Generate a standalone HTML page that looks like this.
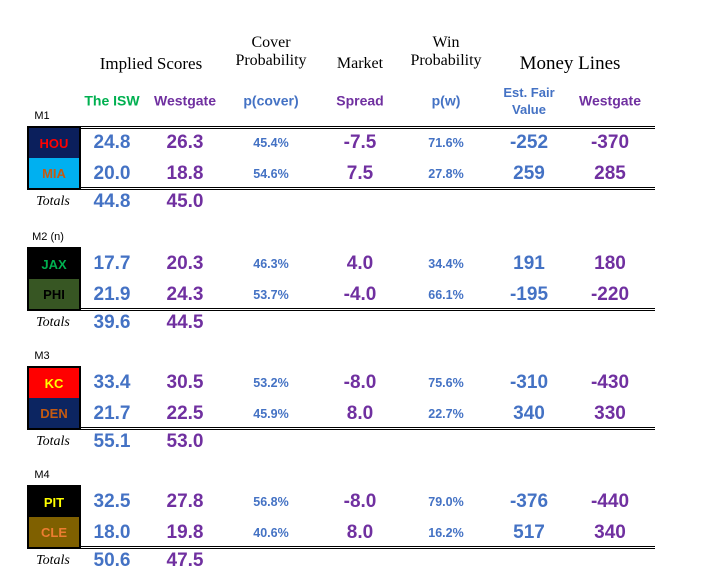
<!DOCTYPE html>
<html><head><meta charset="utf-8">
<style>
body{margin:0;width:704px;height:581px;background:#fff;position:relative;overflow:hidden;font-family:"Liberation Sans",sans-serif}
.a{position:absolute;white-space:nowrap;transform:translate(-50%,-50%)}
.h{font-family:"Liberation Serif",serif;font-size:16px;color:#000;text-align:center;line-height:18px}
.sub{font-weight:bold;font-size:14px;line-height:17px;text-align:center}
.n{font-weight:bold;font-size:19px}
.p{font-weight:bold;font-size:12.5px}
.bl{color:#4472C4}.pu{color:#7030A0}.gr{color:#00B050}
.lbl{font-size:11px;color:#000}
.tot{font-family:"Liberation Serif",serif;font-style:italic;font-size:14px}
.box{position:absolute;left:27px;width:50px;border:2px solid #000}
.team{height:30px;display:flex;align-items:center;justify-content:center;font-weight:bold;font-size:13px}
.dl{position:absolute;left:80px;width:575px;height:1px;border-top:1.5px solid #000;border-bottom:1.5px solid #000;box-sizing:content-box}
</style></head><body>
<div class="a h" style="left:151px;top:64px;font-size:17px">Implied Scores</div>
<div class="a h" style="left:271px;top:52px">Cover<br>Probability</div>
<div class="a h" style="left:360px;top:64px">Market</div>
<div class="a h" style="left:446px;top:52px">Win<br>Probability</div>
<div class="a h" style="left:570px;top:64px;font-size:19px">Money Lines</div>
<div class="a sub gr" style="left:112px;top:101px">The ISW</div>
<div class="a sub pu" style="left:185px;top:101px">Westgate</div>
<div class="a sub bl" style="left:271px;top:101px">p(cover)</div>
<div class="a sub pu" style="left:360px;top:101px">Spread</div>
<div class="a sub bl" style="left:446px;top:101px">p(w)</div>
<div class="a sub bl" style="left:529px;top:101px;font-size:13px">Est. Fair<br>Value</div>
<div class="a sub pu" style="left:610px;top:101px">Westgate</div>
<script>
const labels=["M1","M2 (n)","M3","M4"];
const teams=[["HOU","MIA"],["JAX","PHI"],["KC","DEN"],["PIT","CLE"]];
const teamBg=[["#0B1F5C","#00B0F0"],["#000000","#375623"],["#FF0000","#0C2561"],["#000000","#7F6000"]];
const teamFg=[["#FF0000","#C55A11"],["#00B050","#000000"],["#FFFF00","#C55A11"],["#FFFF00","#ED7D31"]];
const isw=[["24.8","20.0"],["17.7","21.9"],["33.4","21.7"],["32.5","18.0"]];
const wg=[["26.3","18.8"],["20.3","24.3"],["30.5","22.5"],["27.8","19.8"]];
const pcover=[["45.4%","54.6%"],["46.3%","53.7%"],["53.2%","45.9%"],["56.8%","40.6%"]];
const spread=[["-7.5","7.5"],["4.0","-4.0"],["-8.0","8.0"],["-8.0","8.0"]];
const pw=[["71.6%","27.8%"],["34.4%","66.1%"],["75.6%","22.7%"],["79.0%","16.2%"]];
const fair=[["-252","259"],["191","-195"],["-310","340"],["-376","517"]];
const wml=[["-370","285"],["180","-220"],["-430","330"],["-440","340"]];
const totIsw=["44.8","39.6","55.1","50.6"];
const totWg=["45.0","44.5","53.0","47.5"];
const blockTop=[126,247,366,485];
function add(cls,txt,x,y,name){const d=document.createElement('div');d.className='a '+cls;d.textContent=txt;d.style.left=x+'px';d.style.top=y+'px';


document.body.appendChild(d);return d;}
labels.forEach((l,i)=>{
 const t=blockTop[i];
 add('lbl',l,i==1?48:42,t-10,'match-label');
 const b=document.createElement('div');b.className='box';b.style.top=t+'px';
 
 
 for(let r=0;r<2;r++){const c=document.createElement('div');c.className='team';c.style.background=teamBg[i][r];c.style.color=teamFg[i][r];c.textContent=teams[i][r];
 
 
 b.appendChild(c);}
 document.body.appendChild(b);
 if(i==0){const d=document.createElement('div');d.className='dl';d.style.top=(t)+'px';
 
 
 document.body.appendChild(d);}
 const d2=document.createElement('div');d2.className='dl';d2.style.top=(t+61)+'px';
 
 
 document.body.appendChild(d2);
 for(let r=0;r<2;r++){const y=t+17+r*31;
  add('n bl',isw[i][r],112,y,'isw-score');
  add('n pu',wg[i][r],185,y,'westgate-score');
  add('p bl',pcover[i][r],271,y,'cover-prob');
  add('n pu',spread[i][r],360,y,'spread');
  add('p bl',pw[i][r],446,y,'win-prob');
  add('n bl',fair[i][r],529,y,'fair-value');
  add('n pu',wml[i][r],610,y,'westgate-moneyline');
 }
 add('tot','Totals',53,t+76,'totals-label');
 add('n bl',totIsw[i],112,t+76,'isw-total');
 add('n pu',totWg[i],185,t+76,'westgate-total');
});
</script>
</body></html>
